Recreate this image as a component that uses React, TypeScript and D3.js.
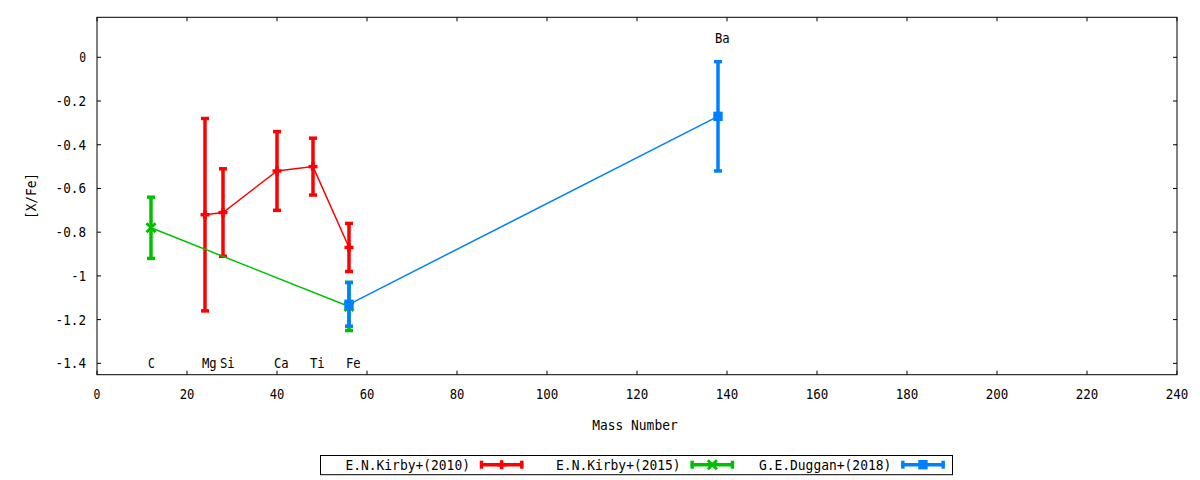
import React from "react";
import * as d3 from "d3";

// ---- data ----
const kirby2010Mass = [24, 28, 40, 48, 56];
const kirby2010Val = [-0.72, -0.71, -0.52, -0.5, -0.87];
const kirby2010Err = [0.44, 0.2, 0.18, 0.13, 0.11];

const kirby2015Mass = [12, 56];
const kirby2015Val = [-0.78, -1.14];
const kirby2015Err = [0.14, 0.11];

const duggan2018Mass = [56, 138];
const duggan2018Val = [-1.13, -0.27];
const duggan2018Err = [0.1, 0.25];

const elementNames = ["C", "Mg", "Si", "Ca", "Ti", "Fe", "Ba"];
const elementMass = [12, 24, 28, 40, 48, 56, 138];
const elementLabelY = [-1.4, -1.4, -1.4, -1.4, -1.4, -1.4, 0.09];

const xTicks = [0, 20, 40, 60, 80, 100, 120, 140, 160, 180, 200, 220, 240];
const yTicks = [0, -0.2, -0.4, -0.6, -0.8, -1, -1.2, -1.4];

const seriesNames = ["E.N.Kirby+(2010)", "E.N.Kirby+(2015)", "G.E.Duggan+(2018)"];
const seriesColors = ["#ff0000", "#00c000", "#0080ff"];
const seriesMarkers = ["plus", "cross", "square"];

const W = 1200;
const H = 480;
const L = 97, R = 1177, T = 17.3, B = 374.7;
const FONT = "'DejaVu Sans Mono', monospace";
const CHAR_W = 7.85;

const x = d3.scaleLinear().domain([0, 240]).range([L, R]);
const y = d3.scaleLinear().domain([-1.452, 0.183]).range([B, T]);

function fmtY(v: number) {
  return String(+v.toFixed(1));
}

function Txt(props: any) {
  const { children, ...rest } = props;
  const s = String(children);
  return (
    <text {...rest} textLength={s.length * CHAR_W - 1} lengthAdjust="spacingAndGlyphs" fill="#000">
      {s}
    </text>
  );
}

function Marker({ type, cx, cy, color }: { type: string; cx: number; cy: number; color: string }) {
  if (type === "plus") {
    return (
      <g stroke={color} strokeWidth={3.5}>
        <line x1={cx - 4.5} x2={cx + 4.5} y1={cy} y2={cy} />
        <line x1={cx} x2={cx} y1={cy - 4.5} y2={cy + 4.5} />
      </g>
    );
  }
  if (type === "cross") {
    return (
      <g stroke={color} strokeWidth={3}>
        <line x1={cx - 4.5} x2={cx + 4.5} y1={cy - 4.5} y2={cy + 4.5} />
        <line x1={cx - 4.5} x2={cx + 4.5} y1={cy + 4.5} y2={cy - 4.5} />
      </g>
    );
  }
  return <rect x={cx - 4.7} y={cy - 4.7} width={9.4} height={9.4} fill={color} />;
}

function Series({ mass, val, err, color, marker }: { mass: number[]; val: number[]; err: number[]; color: string; marker: string }) {
  const pts = mass.map((m, i) => [m, val[i]] as [number, number]);
  const line = d3.line<[number, number]>().x((d) => x(d[0])).y((d) => y(d[1]));
  return (
    <g>
      <path d={line(pts) || ""} fill="none" stroke={color} strokeWidth={1.5} />
      {pts.map((p, i) => {
        const cx = x(p[0]);
        const y0 = y(p[1] + err[i]);
        const y1 = y(p[1] - err[i]);
        return (
          <g key={i} stroke={color} strokeWidth={3.5}>
            <line x1={cx} x2={cx} y1={y0} y2={y1} />
            <line x1={cx - 4} x2={cx + 4} y1={y0} y2={y0} />
            <line x1={cx - 4} x2={cx + 4} y1={y1} y2={y1} />
          </g>
        );
      })}
      {pts.map((p, i) => (
        <Marker key={"m" + i} type={marker} cx={x(p[0])} cy={y(p[1])} color={color} />
      ))}
    </g>
  );
}

export default function App() {
  const legendX0 = 320.5;
  const legendW = 632;
  const colW = legendW / 3;
  const legendCy = 464.7;
  return (
    <svg
      width={W}
      height={H}
      style={{ position: "absolute", left: 0, top: 0, background: "#fff" }}
      fontFamily={FONT}
      fontSize={13.7}
    >
      <rect x={0} y={0} width={W} height={H} fill="#fff" />
      {/* ticks */}
      <g stroke="#000" strokeWidth={1}>
        {yTicks.map((t) => (
          <g key={"yt" + t}>
            <line x1={L} x2={L + 4} y1={y(t)} y2={y(t)} />
            <line x1={R} x2={R - 4} y1={y(t)} y2={y(t)} />
          </g>
        ))}
        {xTicks.map((t) => (
          <g key={"xt" + t}>
            <line x1={x(t)} x2={x(t)} y1={B} y2={B - 4} />
            <line x1={x(t)} x2={x(t)} y1={T} y2={T + 4} />
          </g>
        ))}
      </g>
      {yTicks.map((t) => (
        <Txt key={"yl" + t} x={86} y={y(t)} textAnchor="end" dominantBaseline="central">
          {fmtY(t)}
        </Txt>
      ))}
      {xTicks.map((t) => (
        <Txt key={"xl" + t} x={x(t)} y={398.8} textAnchor="middle">
          {t}
        </Txt>
      ))}
      <Txt x={(L + R) / 2 - 2} y={430} textAnchor="middle">
        Mass Number
      </Txt>
      <Txt
        transform={`translate(31,${(T + B) / 2}) rotate(-90)`}
        textAnchor="middle"
        dominantBaseline="central"
      >
        [X/Fe]
      </Txt>
      {/* element labels */}
      {elementNames.map((n, i) => (
        <Txt key={"el" + n} x={x(elementMass[i]) - 3} y={y(elementLabelY[i])} dominantBaseline="central">
          {n}
        </Txt>
      ))}
      {/* data */}
      <Series mass={kirby2010Mass} val={kirby2010Val} err={kirby2010Err} color={seriesColors[0]} marker={seriesMarkers[0]} />
      <Series mass={kirby2015Mass} val={kirby2015Val} err={kirby2015Err} color={seriesColors[1]} marker={seriesMarkers[1]} />
      <Series mass={duggan2018Mass} val={duggan2018Val} err={duggan2018Err} color={seriesColors[2]} marker={seriesMarkers[2]} />
      {/* frame */}
      <rect x={L} y={T} width={R - L} height={B - T} fill="none" stroke="#000" strokeWidth={1} />
      {/* legend */}
      <rect x={legendX0} y={455.5} width={legendW} height={19.2} fill="none" stroke="#000" strokeWidth={1} />
      {seriesNames.map((n, k) => {
        const sx0 = legendX0 + 159.5 + k * colW;
        const sx1 = sx0 + 43.3;
        const mid = (sx0 + sx1) / 2;
        const c = seriesColors[k];
        return (
          <g key={"lg" + k}>
            <Txt x={sx0 - 10} y={legendCy} textAnchor="end" dominantBaseline="central">
              {n}
            </Txt>
            <g stroke={c} strokeWidth={3.5}>
              <line x1={sx0} x2={sx1} y1={legendCy} y2={legendCy} />
              <line x1={sx0 + 1.5} x2={sx0 + 1.5} y1={legendCy - 4} y2={legendCy + 4} />
              <line x1={sx1 - 1.5} x2={sx1 - 1.5} y1={legendCy - 4} y2={legendCy + 4} />
            </g>
            <Marker type={seriesMarkers[k]} cx={mid} cy={legendCy} color={c} />
          </g>
        );
      })}
    </svg>
  );
}
